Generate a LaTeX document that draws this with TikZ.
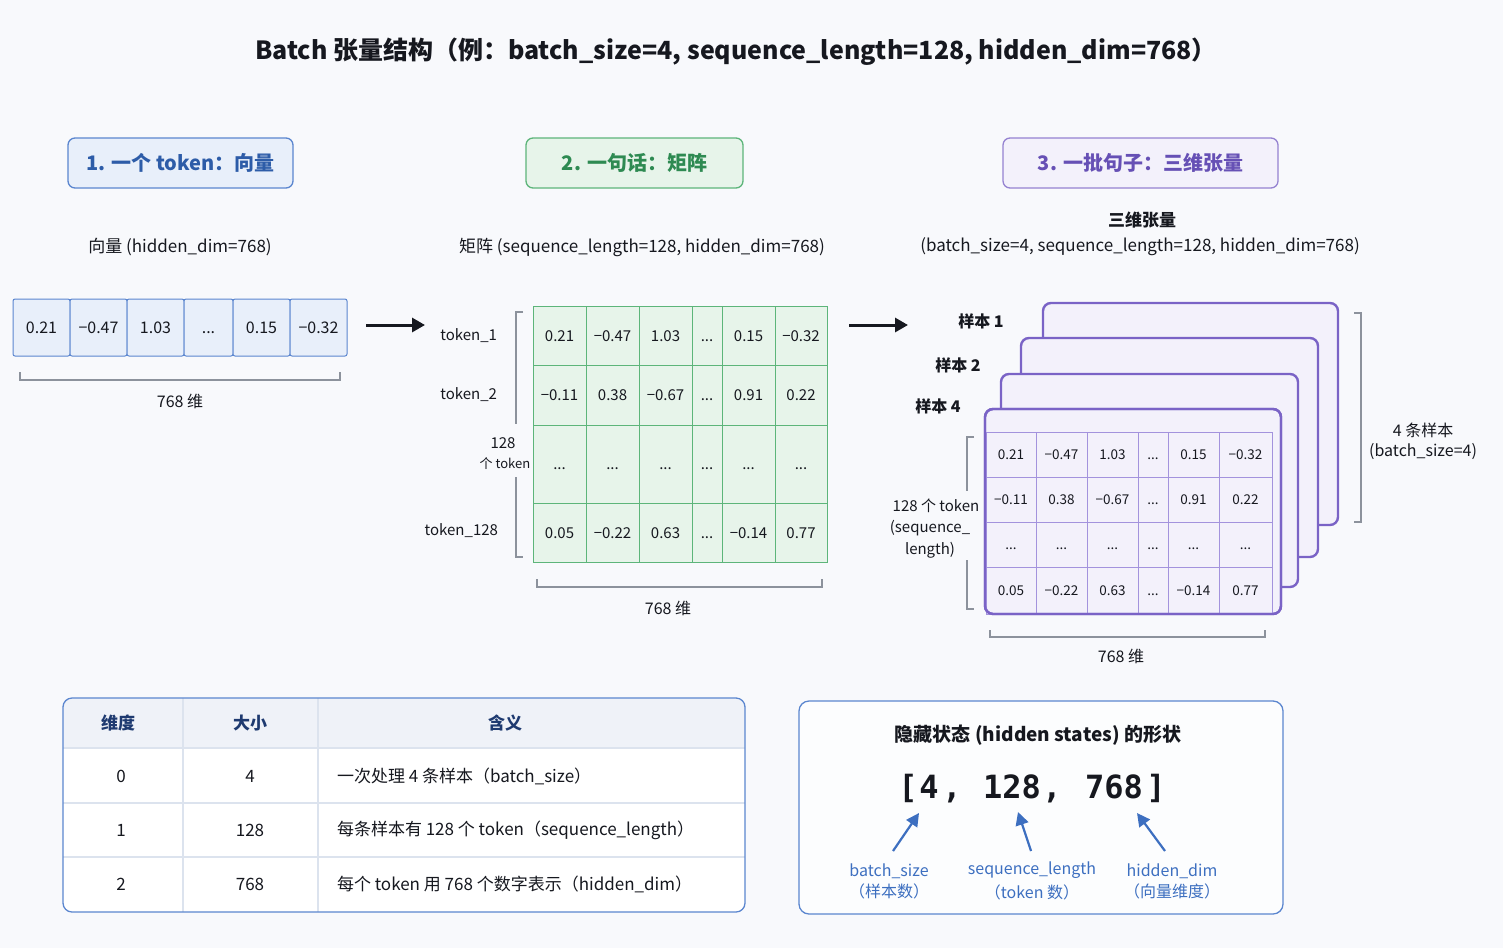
\documentclass[tikz,border=0pt]{standalone}
\usepackage{fontspec}
\setmainfont{Noto Sans CJK SC}
\newfontfamily\monob{DejaVu Sans Mono}
\usetikzlibrary{arrows.meta}
\definecolor{bgc}{HTML}{F8F9FC}
\definecolor{ink}{HTML}{16181F}
\definecolor{blueB}{HTML}{5B86CF}
\definecolor{blueF}{HTML}{E8EFFA}
\definecolor{blueT}{HTML}{2D5CA8}
\definecolor{greenB}{HTML}{5DB57A}
\definecolor{greenF}{HTML}{E7F4EA}
\definecolor{greenT}{HTML}{2E8A52}
\definecolor{purpB}{HTML}{7A63C6}
\definecolor{purpL}{HTML}{A393DD}
\definecolor{purpF}{HTML}{F3F1FB}
\definecolor{purpT}{HTML}{6650B5}
\definecolor{brk}{HTML}{8C929C}
\definecolor{tline}{HTML}{DCE3EE}
\definecolor{thdr}{HTML}{EFF2F8}
\definecolor{thdrT}{HTML}{1E3A70}
\definecolor{arrB}{HTML}{3D6FC0}
\newcommand\myfs[1]{\fontsize{#1}{#1}\selectfont}
\newcommand\mrow[9]{%
 \node[mcell, minimum width=53, minimum height=#3] (#1-1) at (559.5,#2) {#4};
 \node[mcell, minimum width=53, minimum height=#3] (#1-2) at (612.5,#2) {#5};
 \node[mcell, minimum width=53, minimum height=#3] (#1-3) at (665.5,#2) {#6};
 \node[mcell, minimum width=30, minimum height=#3] (#1-4) at (707,#2) {...};
 \node[mcell, minimum width=53, minimum height=#3] (#1-5) at (748.5,#2) {#7};
 \node[mcell, minimum width=52, minimum height=#3] (#1-6) at (801,#2) {#8};
}
\newcommand\trow[9]{%
 \node[tcell, minimum width=50, minimum height=#3] (#1-1) at (1011,#2) {#4};
 \node[tcell, minimum width=51, minimum height=#3] (#1-2) at (1061.5,#2) {#5};
 \node[tcell, minimum width=51, minimum height=#3] (#1-3) at (1112.5,#2) {#6};
 \node[tcell, minimum width=30, minimum height=#3] (#1-4) at (1153,#2) {...};
 \node[tcell, minimum width=51, minimum height=#3] (#1-5) at (1193.5,#2) {#7};
 \node[tcell, minimum width=53, minimum height=#3] (#1-6) at (1245.5,#2) {#8};
}
\begin{document}
\begin{tikzpicture}[x=1pt,y=-1pt,
  every node/.style={text=ink, inner sep=0, outer sep=0},
  hdr/.style={rounded corners=7, line width=1.3, minimum height=50, font=\myfs{20}\bfseries},
  lbl/.style={font=\myfs{17}},
  vcell/.style={draw=blueB, fill=blueF, rounded corners=2, line width=1, minimum height=57, font=\myfs{16}, text height=11.5pt, text depth=0pt},
  mcell/.style={draw=greenB, fill=greenF, line width=0.9, font=\myfs{15}, text height=11pt, text depth=0pt},
  tcell/.style={draw=purpL, line width=0.9, font=\myfs{13.5}, text height=10pt, text depth=0pt},
  card/.style={draw=purpB, fill=purpF, line width=2.4, rounded corners=8},
  brkt/.style={draw=brk, line width=1.2},
  bigarrow/.style={draw=ink, line width=3, -{Triangle[length=13pt,width=14pt]}},
  barrow/.style={draw=arrB, line width=2.2, -{Triangle[length=13pt,width=13pt]}},
  tcol/.style={font=\myfs{17}},
  shp/.style={font=\monob\myfs{32}\bfseries, anchor=base},
  blab/.style={text=arrB, font=\myfs{16}, align=center}
]
\fill[bgc] (0,0) rectangle (1503,948);
\useasboundingbox (0,0) rectangle (1503,948);

% title
\node[font=\myfs{25}\bfseries] (title) at (736,52) {Batch 张量结构（例：batch\_size=4, sequence\_length=128, hidden\_dim=768）};

% headers
\node[hdr, draw=blueB, fill=blueF, text=blueT, minimum width=225] (h1) at (180.5,163) {1. 一个 token：向量};
\node[hdr, draw=greenB, fill=greenF, text=greenT, minimum width=217] (h2) at (634.5,163) {2. 一句话：矩阵};
\node[hdr, draw=purpB!80, fill=purpF, text=purpT, minimum width=275] (h3) at (1140.5,163) {3. 一批句子：三维张量};

% section 1: vector
\node[lbl] (vlab) at (180,247) {向量 (hidden\_dim=768)};
\node[vcell, minimum width=57] (v1) at (41.5,327.5) {0.21};
\node[vcell, minimum width=57] (v2) at (98.5,327.5) {−0.47};
\node[vcell, minimum width=57] (v3) at (155.5,327.5) {1.03};
\node[vcell, minimum width=49] (v4) at (208.5,327.5) {...};
\node[vcell, minimum width=57] (v5) at (261.5,327.5) {0.15};
\node[vcell, minimum width=57] (v6) at (318.5,327.5) {−0.32};
\draw[brkt] (20,372) -- (20,380) -- (340,380) -- (340,372);
\node[font=\myfs{16}] (vdim) at (180,401) {768 维};

\coordinate (a1s) at (366,325);
\coordinate (a1e) at (425,325);
\draw[bigarrow] (a1s) -- (a1e);

% section 2: matrix
\node[lbl] (mlab) at (642,247) {矩阵 (sequence\_length=128, hidden\_dim=768)};
\mrow{m1}{335.5}{59}{0.21}{−0.47}{1.03}{0.15}{−0.32}{}
\mrow{m2}{395}{60}{−0.11}{0.38}{−0.67}{0.91}{0.22}{}
\mrow{m3}{464}{78}{...}{...}{...}{...}{...}{}
\mrow{m4}{532.5}{59}{0.05}{−0.22}{0.63}{−0.14}{0.77}{}
\node[font=\myfs{15}, anchor=east] (tk1) at (497,336) {token\_1};
\node[font=\myfs{15}, anchor=east] (tk2) at (497,395) {token\_2};
\node[font=\myfs{15}, anchor=east] (tk128) at (498,531) {token\_128};
\node[font=\myfs{15}] (tkn) at (503,443) {128};
\node[font=\myfs{13}] (tkn2) at (505,464) {个 token};
\draw[brkt] (523,312) -- (516,312) -- (516,424);
\draw[brkt] (516,477) -- (516,557) -- (523,557);
\draw[brkt] (537,579) -- (537,587) -- (822,587) -- (822,579);
\node[font=\myfs{16}] (mdim) at (668,608) {768 维};

\coordinate (a2s) at (849,325);
\coordinate (a2e) at (908,325);
\draw[bigarrow] (a2s) -- (a2e);

% section 3: tensor
\node[font=\myfs{17}\bfseries] (tlab1) at (1142,220) {三维张量};
\node[lbl] (tlab2) at (1140,247) {(batch\_size=4, sequence\_length=128, hidden\_dim=768)};
\path[card] (1043,303) rectangle (1338,525);
\path[card] (1021,338) rectangle (1318,557);
\path[card] (1001,374) rectangle (1298,587);
\path[card] (985,409) rectangle (1281,614);
\trow{t1}{454.5}{45}{0.21}{−0.47}{1.03}{0.15}{−0.32}{}
\trow{t2}{499.5}{45}{−0.11}{0.38}{−0.67}{0.91}{0.22}{}
\trow{t3}{544.5}{45}{...}{...}{...}{...}{...}{}
\trow{t4}{590.5}{47}{0.05}{−0.22}{0.63}{−0.14}{0.77}{}
\path[card, fill=none] (985,409) rectangle (1281,614);
\node[font=\myfs{16}\bfseries] (s1) at (981,321) {样本 1};
\node[font=\myfs{16}\bfseries] (s2) at (958,365) {样本 2};
\node[font=\myfs{16}\bfseries] (s4) at (938,406) {样本 4};
\draw[brkt] (1354,313) -- (1361,313) -- (1361,522) -- (1354,522);
\node[font=\myfs{16}] (bs1) at (1423,430) {4 条样本};
\node[font=\myfs{16}] (bs2) at (1423,452) {(batch\_size=4)};
\draw[brkt] (974,437) -- (967,437) -- (967,491);
\draw[brkt] (967,560) -- (967,609) -- (974,609);
\node[font=\myfs{15}] (sl1) at (936,506) {128 个 token};
\node[font=\myfs{15}] (sl2) at (930,528) {(sequence\_};
\node[font=\myfs{15}] (sl3) at (930,550) {length)};
\draw[brkt] (990,630) -- (990,637) -- (1265,637) -- (1265,630);
\node[font=\myfs{16}] (tdim) at (1121,656) {768 维};

% table
\begin{scope}
\clip[rounded corners=9] (63,698) rectangle (745,912);
\fill[white] (63,698) rectangle (745,912);
\fill[thdr] (63,698) rectangle (745,748);
\end{scope}
\draw[tline, line width=1.5] (63,748) -- (745,748);
\draw[tline, line width=1.5] (63,803) -- (745,803);
\draw[tline, line width=1.5] (63,857) -- (745,857);
\draw[tline, line width=1.5] (183,698) -- (183,912);
\draw[tline, line width=1.5] (318,698) -- (318,912);
\draw[blueB, line width=1.3, rounded corners=9] (63,698) rectangle (745,912);
\node[font=\myfs{17}\bfseries, text=thdrT] (th1) at (118,723) {维度};
\node[font=\myfs{17}\bfseries, text=thdrT] (th2) at (250,723) {大小};
\node[font=\myfs{17}\bfseries, text=thdrT] (th3) at (505,723) {含义};
\node[tcol] (r01) at (121,776) {0};
\node[tcol] (r02) at (250,776) {4};
\node[tcol, anchor=west] (r03) at (337,776) {一次处理 4 条样本（batch\_size）};
\node[tcol] (r11) at (121,830) {1};
\node[tcol] (r12) at (250,830) {128};
\node[tcol, anchor=west] (r13) at (337,830) {每条样本有 128 个 token（sequence\_length）};
\node[tcol] (r21) at (121,884) {2};
\node[tcol] (r22) at (250,884) {768};
\node[tcol, anchor=west] (r23) at (337,884) {每个 token 用 768 个数字表示（hidden\_dim）};

% shape box
\draw[blueB, fill=white!60!bgc, line width=1.3, rounded corners=10] (799,701) rectangle (1283,914);
\node[font=\myfs{19}\bfseries] (stitle) at (1038,735) {隐藏状态 (hidden states) 的形状};
\node[shp] (sb1) at (908,798) {[};
\node[shp] (d4) at (929,798) {4};
\node[shp] (c1) at (952,798) {,};
\node[shp] (d128) at (1012,798) {128};
\node[shp] (c2) at (1052,798) {,};
\node[shp] (d768) at (1114,798) {768};
\node[shp] (sb2) at (1156,798) {]};
\node[blab] (lb1) at (889,881) {batch\_size\\[5pt]（样本数）};
\node[blab] (lb2) at (1032,881) {sequence\_length\\[5pt]（token 数）};
\node[blab] (lb3) at (1172,881) {hidden\_dim\\[5pt]（向量维度）};
\coordinate (p1s) at (893,851);
\coordinate (p1e) at (919,813);
\coordinate (p2s) at (1031,851);
\coordinate (p2e) at (1018,812);
\coordinate (p3s) at (1165,851);
\coordinate (p3e) at (1137,813);
\draw[barrow] (p1s) -- (p1e);
\draw[barrow] (p2s) -- (p2e);
\draw[barrow] (p3s) -- (p3e);
\end{tikzpicture}
\end{document}
